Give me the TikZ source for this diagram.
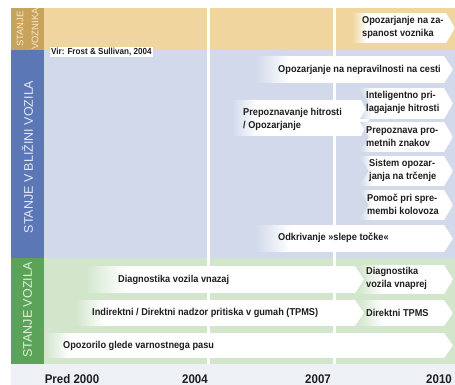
\documentclass[tikz,border=0pt]{standalone}
\usepackage{fontspec}
\setmainfont{Liberation Sans}
\newfontfamily\narrowfont[FakeStretch=0.92]{Liberation Sans}

\definecolor{drivertan}{HTML}{C9A35B}
\definecolor{driverbg}{HTML}{F0D69E}
\definecolor{drivertext}{HTML}{F6E8C6}
\definecolor{nearblue}{HTML}{5B77B5}
\definecolor{nearbg}{HTML}{D1D9EA}
\definecolor{neartext}{HTML}{E2E8F6}
\definecolor{cargreen}{HTML}{5CA35A}
\definecolor{carbg}{HTML}{D2E6CC}
\definecolor{cartext}{HTML}{DDF0D9}
\definecolor{yearbg}{HTML}{EDF0F5}
\definecolor{darktext}{HTML}{1E1E1E}

\tikzset{
  bartext/.style={font=\narrowfont\bfseries\fontsize{10}{13}\selectfont, text=darktext, align=left, inner sep=0pt},
  sidetext/.style={font=\fontsize{12.5}{13}\selectfont, rotate=90, inner sep=0pt, align=center},
  yeartext/.style={font=\narrowfont\bfseries\fontsize{12.5}{13}\selectfont, text=darktext},
}

% white arrow bar: fade colour, notch, fade length, x left, x tip, y top, y bottom
\newcommand{\bararrow}[7]{%
  \pgfmathsetmacro{\ymid}{(#6+#7)/2}%
  \begin{scope}
    \clip (#4,#6) -- (#5-9,#6) -- (#5,\ymid) -- (#5-9,#7) -- (#4,#7) -- (#4+#2,\ymid) -- cycle;
    \fill[white] (#4,#6) rectangle (#5,#7);
    \shade[left color=#1, right color=white] (#4,#6) rectangle (#4+#3,#7);
  \end{scope}}

\begin{document}
\begin{tikzpicture}[x=1pt, y=-1pt]
    \useasboundingbox (0,0) rectangle (455,385);
    % \draw[help lines, step=50] (0,0) grid (455,385);

    % bands
    \fill[driverbg] (44,8) rectangle (455,50);
    \fill[nearbg] (44,50) rectangle (455,258);
    \fill[carbg] (44,258) rectangle (455,364);
    \fill[yearbg] (11,364) rectangle (455,385);
    \fill[drivertan] (11,8) rectangle (44,50);
    \fill[nearblue] (11,50) rectangle (44,258);
    \fill[cargreen] (11,258) rectangle (44,364);

    \draw[white, line width=3pt] (208,8) -- (208,364);
    \draw[white, line width=3pt] (334,8) -- (334,364);

    \node[sidetext, text=drivertext, font=\fontsize{9.5}{15}\selectfont] (driverlbl) at (27.5,29) {STANJE\\VOZNIKA};
    \node[sidetext, text=neartext] (nearlbl) at (27.5,157) {STANJE V BLIŽINI VOZILA};
    \node[sidetext, text=cartext] (carlbl) at (27.5,310) {STANJE VOZILA};

    \node[fill=white, inner sep=1pt, anchor=west, text=darktext,
          font=\narrowfont\bfseries\fontsize{8.8}{9}\selectfont] (source) at (50,52) {Vir: Frost \& Sullivan, 2004};

    % driver
    \bararrow{driverbg}{0}{15}{352}{455}{13}{43}
    \node[bartext, anchor=west] (sleepy) at (362,27) {Opozarjanje na za-\\spanost voznika};

    % surroundings
    \bararrow{nearbg}{0}{35}{255}{453}{56}{83}
    \node[bartext, anchor=east] (road) at (441,70) {Opozarjanje na nepravilnosti na cesti};

    \bararrow{nearbg}{0}{25}{232}{370}{100}{136}
    \node[bartext, anchor=west] (speed) at (243,119) {Prepoznavanje hitrosti\\/ Opozarjanje};

    \bararrow{nearbg}{9}{12}{360}{453}{88}{119}
    \bararrow{nearbg}{9}{12}{360}{453}{122}{152}
    \bararrow{nearbg}{9}{12}{360}{453}{156}{186}
    \bararrow{nearbg}{9}{12}{360}{453}{190}{220}
    \node[bartext, anchor=west] (adapt) at (366,102) {Inteligentno pri-\\lagajanje hitrosti};
    \node[bartext, anchor=west] (signs) at (366,137) {Prepoznava pro-\\metnih znakov};
    \node[bartext, anchor=west] (crash) at (369,170) {Sistem opozar-\\janja na trčenje};
    \node[bartext, anchor=west] (lane) at (367,204) {Pomoč pri spre-\\membi kolovoza};

    \bararrow{nearbg}{0}{35}{255}{453}{225}{252}
    \node[bartext, anchor=west] (blind) at (278,238) {Odkrivanje »slepe točke«};

    % vehicle
    \bararrow{carbg}{0}{40}{85}{364}{266}{293}
    \node[bartext, anchor=west] (diagpast) at (118,280) {Diagnostika vozila vnazaj};
    \bararrow{carbg}{9}{25}{358}{453}{265}{294}
    \node[bartext, anchor=west] (diagnext) at (366,278) {Diagnostika\\vozila vnaprej};

    \bararrow{carbg}{0}{30}{75}{364}{300}{326}
    \node[bartext, anchor=west] (tpms) at (92,313) {Indirektni / Direktni nadzor pritiska v gumah (TPMS)};
    \bararrow{carbg}{9}{25}{358}{453}{300}{326}
    \node[bartext, anchor=west] (tpmsnext) at (366,313) {Direktni TPMS};

    \bararrow{carbg}{0}{25}{45}{453}{333}{358}
    \node[bartext, anchor=west] (belt) at (63,346) {Opozorilo glede varnostnega pasu};

    % years
    \node[yeartext] (y2000) at (72,379) {Pred 2000};
    \node[yeartext] (y2004) at (195,379) {2004};
    \node[yeartext] (y2007) at (318,379) {2007};
    \node[yeartext] (y2010) at (439,379) {2010};
\end{tikzpicture}
\end{document}
